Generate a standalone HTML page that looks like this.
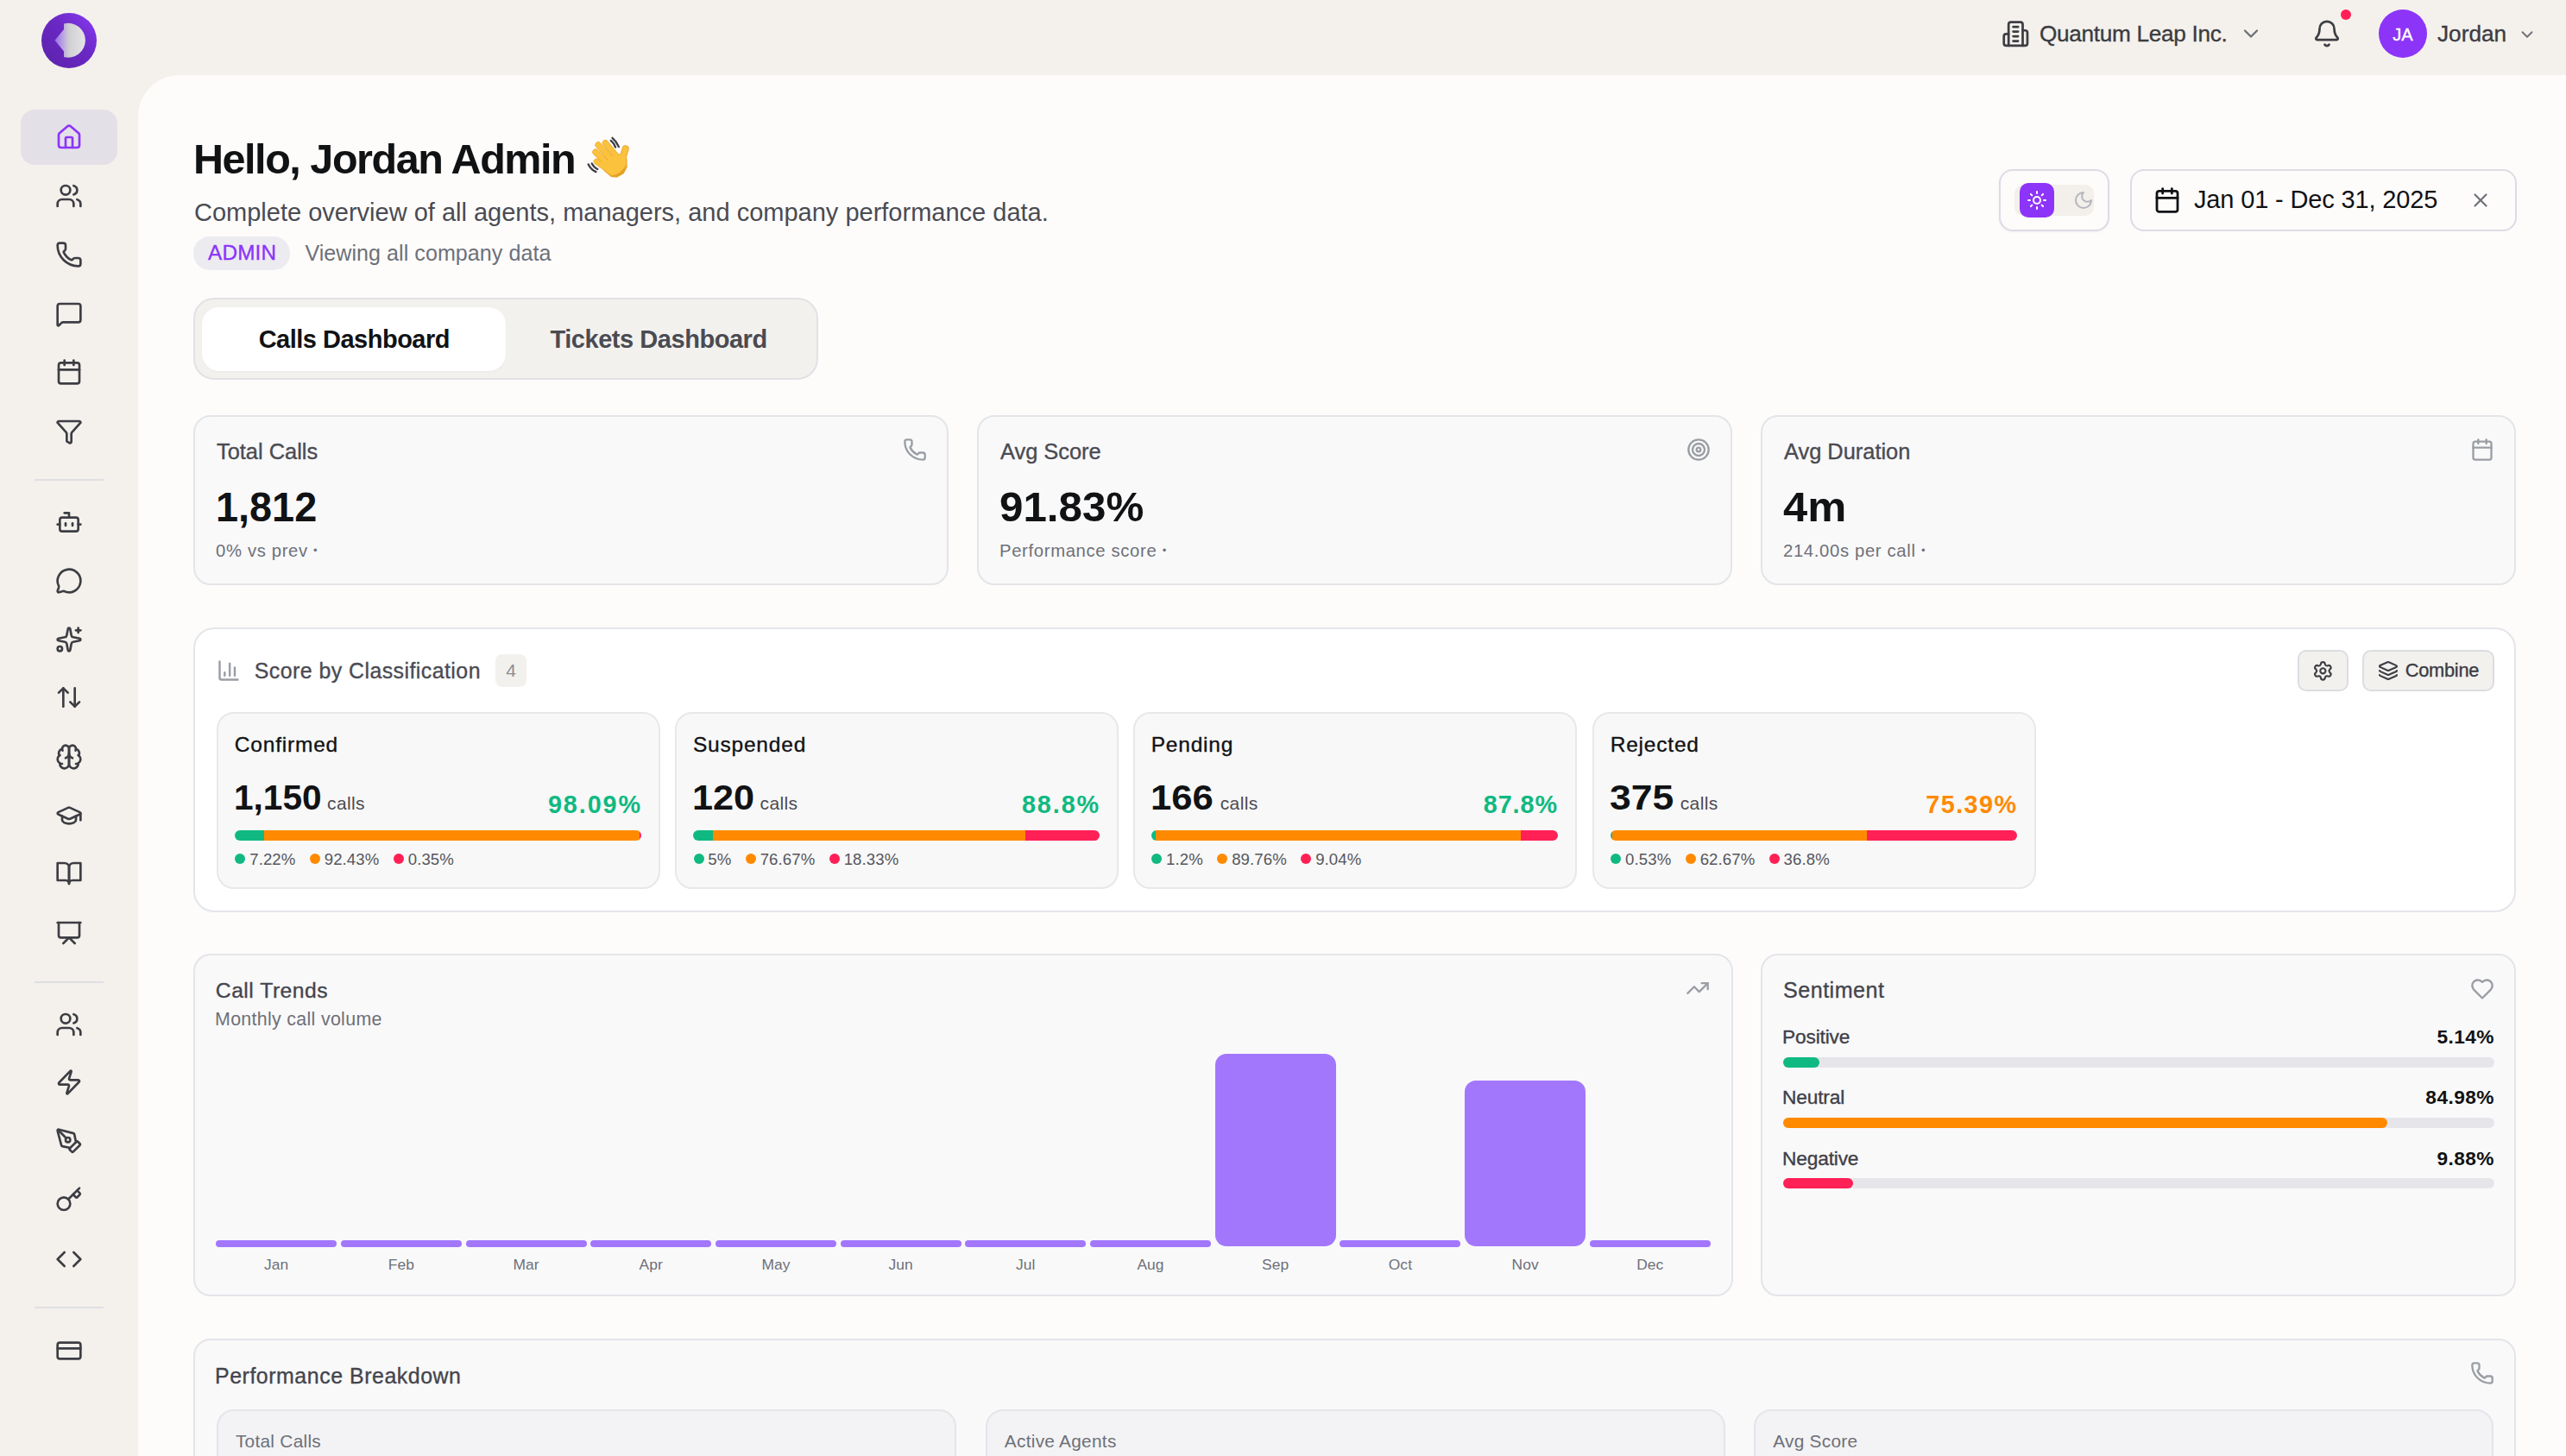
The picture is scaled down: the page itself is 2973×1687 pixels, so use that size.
<!DOCTYPE html><html><head><meta charset="utf-8"><style>
html,body{margin:0;padding:0;}
body{width:2973px;height:1687px;overflow:hidden;position:relative;background:#f4f1ec;font-family:"Liberation Sans", sans-serif;}
.t{position:absolute;white-space:nowrap;}
</style></head><body>
<div style="position:absolute;left:160.0px;top:87.0px;width:2813.0px;height:1660.0px;background:#fdfcfb;border-top-left-radius:48px;"></div>
<svg style="position:absolute;left:48px;top:15px" width="64" height="64" viewBox="0 0 64 64">
<defs><linearGradient id="lg1" x1="0" y1="1" x2="1" y2="0"><stop offset="0" stop-color="#5b22a8"/><stop offset="0.55" stop-color="#6a28c4"/><stop offset="1" stop-color="#8a3cf5"/></linearGradient>
<linearGradient id="lg2" x1="0" y1="0" x2="1" y2="0"><stop offset="0" stop-color="#9a6af0"/><stop offset="0.4" stop-color="#c9c3d6"/><stop offset="0.5" stop-color="#d2d2d4"/><stop offset="1" stop-color="#e4e4e6"/></linearGradient></defs>
<circle cx="32" cy="32" r="32" fill="url(#lg1)"/>
<path d="M26 12.5 A19.9 19.9 0 1 1 26 51 L26 44.5 L15.5 31.75 L26 19 Z" fill="url(#lg2)"/>
</svg>
<div style="position:absolute;left:24.0px;top:127.0px;width:112.0px;height:64.0px;background:#e4e0e8;border-radius:16px;"></div>
<svg style="position:absolute;left:64.0px;top:143.0px;" width="32" height="32" viewBox="0 0 24 24" fill="none" stroke="#8d34f9" stroke-width="2" stroke-linecap="round" stroke-linejoin="round"><path d="M15 21v-8a1 1 0 0 0-1-1h-4a1 1 0 0 0-1 1v8"/><path d="M3 10a2 2 0 0 1 .709-1.528l7-5.999a2 2 0 0 1 2.582 0l7 5.999A2 2 0 0 1 21 10v9a2 2 0 0 1-2 2H5a2 2 0 0 1-2-2z"/></svg>
<svg style="position:absolute;left:64.0px;top:211.0px;" width="32" height="32" viewBox="0 0 24 24" fill="none" stroke="#3d3e44" stroke-width="2" stroke-linecap="round" stroke-linejoin="round"><path d="M16 21v-2a4 4 0 0 0-4-4H6a4 4 0 0 0-4 4v2"/><circle cx="9" cy="7" r="4"/><path d="M22 21v-2a4 4 0 0 0-3-3.87"/><path d="M16 3.13a4 4 0 0 1 0 7.75"/></svg>
<svg style="position:absolute;left:64.0px;top:279.0px;" width="32" height="32" viewBox="0 0 24 24" fill="none" stroke="#3d3e44" stroke-width="2" stroke-linecap="round" stroke-linejoin="round"><path d="M13.832 16.568a1 1 0 0 0 1.213-.303l.355-.465A2 2 0 0 1 17 15h3a2 2 0 0 1 2 2v3a2 2 0 0 1-2 2A18 18 0 0 1 2 4a2 2 0 0 1 2-2h3a2 2 0 0 1 2 2v3a2 2 0 0 1-.8 1.6l-.468.351a1 1 0 0 0-.292 1.233 14 14 0 0 0 6.392 6.384"/></svg>
<svg style="position:absolute;left:64.0px;top:347.5px;" width="32" height="32" viewBox="0 0 24 24" fill="none" stroke="#3d3e44" stroke-width="2" stroke-linecap="round" stroke-linejoin="round"><path d="M22 17a2 2 0 0 1-2 2H6.828a2 2 0 0 0-1.414.586l-2.202 2.202A.71.71 0 0 1 2 21.286V5a2 2 0 0 1 2-2h16a2 2 0 0 1 2 2z"/></svg>
<svg style="position:absolute;left:64.0px;top:415.0px;" width="32" height="32" viewBox="0 0 24 24" fill="none" stroke="#3d3e44" stroke-width="2" stroke-linecap="round" stroke-linejoin="round"><path d="M8 2v4"/><path d="M16 2v4"/><rect width="18" height="18" x="3" y="4" rx="2"/><path d="M3 10h18"/></svg>
<svg style="position:absolute;left:64.0px;top:484.0px;" width="32" height="32" viewBox="0 0 24 24" fill="none" stroke="#3d3e44" stroke-width="2" stroke-linecap="round" stroke-linejoin="round"><path d="M10 20a1 1 0 0 0 .553.895l2 1A1 1 0 0 0 14 21v-7a2 2 0 0 1 .517-1.341L21.74 4.67A1 1 0 0 0 21 3H3a1 1 0 0 0-.742 1.67l7.225 7.989A2 2 0 0 1 10 14z"/></svg>
<svg style="position:absolute;left:64.0px;top:589.0px;" width="32" height="32" viewBox="0 0 24 24" fill="none" stroke="#3d3e44" stroke-width="2" stroke-linecap="round" stroke-linejoin="round"><path d="M12 8V4H8"/><rect width="16" height="12" x="4" y="8" rx="2"/><path d="M2 14h2"/><path d="M20 14h2"/><path d="M15 13v2"/><path d="M9 13v2"/></svg>
<svg style="position:absolute;left:64.0px;top:657.0px;" width="32" height="32" viewBox="0 0 24 24" fill="none" stroke="#3d3e44" stroke-width="2" stroke-linecap="round" stroke-linejoin="round"><path d="M2.992 16.342a2 2 0 0 1 .094 1.167l-1.065 3.29a1 1 0 0 0 1.236 1.168l3.413-.998a2 2 0 0 1 1.099.092 10 10 0 1 0-4.777-4.719"/></svg>
<svg style="position:absolute;left:64.0px;top:725.0px;" width="32" height="32" viewBox="0 0 24 24" fill="none" stroke="#3d3e44" stroke-width="2" stroke-linecap="round" stroke-linejoin="round"><path d="M11.017 2.814a1 1 0 0 1 1.966 0l1.051 5.558a2 2 0 0 0 1.594 1.594l5.558 1.051a1 1 0 0 1 0 1.966l-5.558 1.051a2 2 0 0 0-1.594 1.594l-1.051 5.558a1 1 0 0 1-1.966 0l-1.051-5.558a2 2 0 0 0-1.594-1.594l-5.558-1.051a1 1 0 0 1 0-1.966l5.558-1.051a2 2 0 0 0 1.594-1.594z"/><path d="M20 2v4"/><path d="M22 4h-4"/><circle cx="4" cy="20" r="2"/></svg>
<svg style="position:absolute;left:64.0px;top:792.0px;" width="32" height="32" viewBox="0 0 24 24" fill="none" stroke="#3d3e44" stroke-width="2" stroke-linecap="round" stroke-linejoin="round"><path d="m21 16-4 4-4-4"/><path d="M17 20V4"/><path d="m3 8 4-4 4 4"/><path d="M7 4v16"/></svg>
<svg style="position:absolute;left:64.0px;top:861.0px;" width="32" height="32" viewBox="0 0 24 24" fill="none" stroke="#3d3e44" stroke-width="2" stroke-linecap="round" stroke-linejoin="round"><path d="M12 5a3 3 0 1 0-5.997.125 4 4 0 0 0-2.526 5.77 4 4 0 0 0 .556 6.588A4 4 0 1 0 12 18Z"/><path d="M12 5a3 3 0 1 1 5.997.125 4 4 0 0 1 2.526 5.77 4 4 0 0 1-.556 6.588A4 4 0 1 1 12 18Z"/><path d="M15 13a4.5 4.5 0 0 1-3-4 4.5 4.5 0 0 1-3 4"/><path d="M17.599 6.5a3 3 0 0 0 .399-1.375"/><path d="M6.003 5.125A3 3 0 0 0 6.401 6.5"/><path d="M3.477 10.896a4 4 0 0 1 .585-.396"/><path d="M19.938 10.5a4 4 0 0 1 .585.396"/><path d="M6 18a4 4 0 0 1-1.967-.516"/><path d="M19.967 17.484A4 4 0 0 1 18 18"/></svg>
<svg style="position:absolute;left:64.0px;top:929.0px;" width="32" height="32" viewBox="0 0 24 24" fill="none" stroke="#3d3e44" stroke-width="2" stroke-linecap="round" stroke-linejoin="round"><path d="M21.42 10.922a1 1 0 0 0-.019-1.838L12.83 5.18a2 2 0 0 0-1.66 0L2.6 9.08a1 1 0 0 0 0 1.832l8.57 3.908a2 2 0 0 0 1.66 0z"/><path d="M22 10v6"/><path d="M6 12.5V16a6 3 0 0 0 12 0v-3.5"/></svg>
<svg style="position:absolute;left:64.0px;top:996.0px;" width="32" height="32" viewBox="0 0 24 24" fill="none" stroke="#3d3e44" stroke-width="2" stroke-linecap="round" stroke-linejoin="round"><path d="M2 3h6a4 4 0 0 1 4 4v14a3 3 0 0 0-3-3H2z"/><path d="M22 3h-6a4 4 0 0 0-4 4v14a3 3 0 0 1 3-3h7z"/></svg>
<svg style="position:absolute;left:64.0px;top:1065.0px;" width="32" height="32" viewBox="0 0 24 24" fill="none" stroke="#3d3e44" stroke-width="2" stroke-linecap="round" stroke-linejoin="round"><path d="M2 3h20"/><path d="M21 3v11a2 2 0 0 1-2 2H5a2 2 0 0 1-2-2V3"/><path d="m7 21 5-5 5 5"/></svg>
<svg style="position:absolute;left:64.0px;top:1171.0px;" width="32" height="32" viewBox="0 0 24 24" fill="none" stroke="#3d3e44" stroke-width="2" stroke-linecap="round" stroke-linejoin="round"><path d="M16 21v-2a4 4 0 0 0-4-4H6a4 4 0 0 0-4 4v2"/><circle cx="9" cy="7" r="4"/><path d="M22 21v-2a4 4 0 0 0-3-3.87"/><path d="M16 3.13a4 4 0 0 1 0 7.75"/></svg>
<svg style="position:absolute;left:64.0px;top:1238.0px;" width="32" height="32" viewBox="0 0 24 24" fill="none" stroke="#3d3e44" stroke-width="2" stroke-linecap="round" stroke-linejoin="round"><path d="M4 14a1 1 0 0 1-.78-1.63l9.9-10.2a.5.5 0 0 1 .86.46l-1.92 6.02A1 1 0 0 0 13 10h7a1 1 0 0 1 .78 1.63l-9.9 10.2a.5.5 0 0 1-.86-.46l1.92-6.02A1 1 0 0 0 11 14z"/></svg>
<svg style="position:absolute;left:64.0px;top:1306.0px;" width="32" height="32" viewBox="0 0 24 24" fill="none" stroke="#3d3e44" stroke-width="2" stroke-linecap="round" stroke-linejoin="round"><path d="M15.707 21.293a1 1 0 0 1-1.414 0l-1.586-1.586a1 1 0 0 1 0-1.414l5.586-5.586a1 1 0 0 1 1.414 0l1.586 1.586a1 1 0 0 1 0 1.414z"/><path d="m18 13-1.375-6.874a1 1 0 0 0-.746-.776L3.235 2.028a1 1 0 0 0-1.207 1.207L5.35 15.879a1 1 0 0 0 .776.746L13 18"/><path d="m2.3 2.3 7.286 7.286"/><circle cx="11" cy="11" r="2"/></svg>
<svg style="position:absolute;left:64.0px;top:1374.0px;" width="32" height="32" viewBox="0 0 24 24" fill="none" stroke="#3d3e44" stroke-width="2" stroke-linecap="round" stroke-linejoin="round"><path d="m15.5 7.5 2.3 2.3a1 1 0 0 0 1.4 0l2.1-2.1a1 1 0 0 0 0-1.4L19 4"/><path d="m21 2-9.6 9.6"/><circle cx="7.5" cy="15.5" r="5.5"/></svg>
<svg style="position:absolute;left:64.0px;top:1443.0px;" width="32" height="32" viewBox="0 0 24 24" fill="none" stroke="#3d3e44" stroke-width="2" stroke-linecap="round" stroke-linejoin="round"><polyline points="16 18 22 12 16 6"/><polyline points="8 6 2 12 8 18"/></svg>
<svg style="position:absolute;left:64.0px;top:1549.0px;" width="32" height="32" viewBox="0 0 24 24" fill="none" stroke="#3d3e44" stroke-width="2" stroke-linecap="round" stroke-linejoin="round"><rect width="20" height="14" x="2" y="5" rx="2"/><line x1="2" x2="22" y1="10" y2="10"/></svg>
<div style="position:absolute;left:40.0px;top:555.0px;width:80.0px;height:2.0px;background:#dedfe3;"></div>
<div style="position:absolute;left:40.0px;top:1137.0px;width:80.0px;height:2.0px;background:#dedfe3;"></div>
<div style="position:absolute;left:40.0px;top:1514.0px;width:80.0px;height:2.0px;background:#dedfe3;"></div>
<svg style="position:absolute;left:2318.8px;top:22.6px;" width="32.7" height="32.7" viewBox="0 0 24 24" fill="none" stroke="#3d3e44" stroke-width="2" stroke-linecap="round" stroke-linejoin="round"><path d="M6 22V4a2 2 0 0 1 2-2h8a2 2 0 0 1 2 2v18Z"/><path d="M6 12H4a2 2 0 0 0-2 2v6a2 2 0 0 0 2 2h2"/><path d="M18 9h2a2 2 0 0 1 2 2v9a2 2 0 0 1-2 2h-2"/><path d="M10 6h4"/><path d="M10 10h4"/><path d="M10 14h4"/><path d="M10 18h4"/></svg>
<div class="t" style="left:2363.0px;top:26.3px;font-size:26.2px;line-height:26.2px;font-weight:400;color:#3b3c42;letter-spacing:-0.31px;-webkit-text-stroke:0.35px currentColor">Quantum Leap Inc.</div>
<svg style="position:absolute;left:2594.0px;top:25.0px;" width="28" height="28" viewBox="0 0 24 24" fill="none" stroke="#6e7078" stroke-width="2" stroke-linecap="round" stroke-linejoin="round"><path d="m6 9 6 6 6-6"/></svg>
<svg style="position:absolute;left:2679.0px;top:22.0px;" width="34" height="34" viewBox="0 0 24 24" fill="none" stroke="#3d3e44" stroke-width="1.9" stroke-linecap="round" stroke-linejoin="round"><path d="M10.268 21a2 2 0 0 0 3.464 0"/><path d="M3.262 15.326A1 1 0 0 0 4 17h16a1 1 0 0 0 .74-1.673C19.41 13.956 18 12.499 18 8A6 6 0 0 0 6 8c0 4.499-1.411 5.956-2.738 7.326"/></svg>
<div style="position:absolute;left:2712.0px;top:11.0px;width:12.0px;height:12.0px;background:#ff2056;border-radius:50%;"></div>
<div style="position:absolute;left:2756.0px;top:11.0px;width:56.0px;height:56.0px;background:#8d34f9;border-radius:50%;"></div>
<div class="t" style="left:2284.0px;width:1000px;text-align:center;top:29.6px;font-size:20px;line-height:20px;font-weight:400;color:#ffffff;letter-spacing:0px;-webkit-text-stroke:0.35px currentColor">JA</div>
<div class="t" style="left:2824.0px;top:26.3px;font-size:26.2px;line-height:26.2px;font-weight:400;color:#3b3c42;letter-spacing:0px;-webkit-text-stroke:0.35px currentColor">Jordan</div>
<svg style="position:absolute;left:2917.0px;top:29.0px;" width="22" height="22" viewBox="0 0 24 24" fill="none" stroke="#6e7078" stroke-width="2" stroke-linecap="round" stroke-linejoin="round"><path d="m6 9 6 6 6-6"/></svg>
<div class="t" style="left:224.0px;top:160.1px;font-size:48.5px;line-height:48.5px;font-weight:700;color:#111214;letter-spacing:-1.45px;">Hello, Jordan Admin</div>
<svg style="position:absolute;left:670px;top:150px" width="70" height="65" viewBox="0 0 1568 1456">
<g fill="none" stroke="#3d3e44" stroke-width="52" stroke-linecap="round"><path d="M885 220 Q1000 320 1050 450"/><path d="M845 290 Q930 360 965 460"/><path d="M262 905 Q330 1040 460 1100"/><path d="M352 885 Q410 990 500 1032"/></g>
<g stroke="#e9a52c" stroke-linecap="round" fill="none">
<line x1="700" y1="350" x2="1010" y2="720" stroke-width="160"/>
<line x1="515" y1="400" x2="860" y2="780" stroke-width="160"/>
<line x1="445" y1="585" x2="790" y2="920" stroke-width="160"/>
<line x1="475" y1="830" x2="800" y2="1060" stroke-width="155"/>
<line x1="1225" y1="500" x2="1120" y2="860" stroke-width="180"/>
</g>
<path d="M760 700 L1060 640 L1180 620 L1265 760 L1270 980 L1180 1150 L1000 1250 L850 1230 L650 1060 Z" fill="#e9a52c"/>
<g stroke="#fbc23e" stroke-linecap="round" fill="none">
<line x1="700" y1="350" x2="1010" y2="720" stroke-width="136"/>
<line x1="515" y1="400" x2="860" y2="780" stroke-width="136"/>
<line x1="445" y1="585" x2="790" y2="920" stroke-width="136"/>
<line x1="475" y1="830" x2="800" y2="1060" stroke-width="130"/>
<line x1="1225" y1="500" x2="1120" y2="860" stroke-width="136"/>
</g>
<path d="M780 720 L1060 660 L1170 640 L1240 770 L1240 960 L1160 1110 L1000 1200 L860 1190 L680 1050 Z" fill="#fbc23e"/>
<path d="M1240 900 Q1230 1080 1100 1170 Q980 1240 850 1200 Q1000 1190 1120 1080 Q1220 990 1240 900 Z" fill="#e3a020"/>
</svg>
<div class="t" style="left:225.0px;top:231.5px;font-size:29px;line-height:29px;font-weight:400;color:#4a4b52;letter-spacing:0px;">Complete overview of all agents, managers, and company performance data.</div>
<div style="position:absolute;left:224.0px;top:274.0px;width:112.0px;height:39.0px;background:#ecebf0;border-radius:19px;"></div>
<div class="t" style="left:241.0px;top:281.4px;font-size:24.3px;line-height:24.3px;font-weight:400;color:#8d34f9;letter-spacing:0.2px;-webkit-text-stroke:0.35px currentColor">ADMIN</div>
<div class="t" style="left:353.4px;top:280.8px;font-size:25.1px;line-height:25.1px;font-weight:400;color:#6e7078;letter-spacing:0.04px;">Viewing all company data</div>
<div style="position:absolute;left:224.0px;top:345.0px;width:724.0px;height:95.0px;background:#f3f1ee;border:2px solid #e2e1e6;border-radius:24px;box-sizing:border-box;"></div>
<div style="position:absolute;left:234.0px;top:356.0px;width:352.0px;height:74.0px;background:#ffffff;border-radius:20px;box-shadow:0 1px 2px rgba(0,0,0,0.04);"></div>
<div class="t" style="left:-89.7px;width:1000px;text-align:center;top:378.7px;font-size:29px;line-height:29px;font-weight:700;color:#111214;letter-spacing:-0.5px;">Calls Dashboard</div>
<div class="t" style="left:263.1px;width:1000px;text-align:center;top:378.7px;font-size:29px;line-height:29px;font-weight:700;color:#4a4b52;letter-spacing:-0.46px;">Tickets Dashboard</div>
<div style="position:absolute;left:2316.0px;top:196.0px;width:128.0px;height:72.0px;background:#fdfcfb;border:2px solid #dfdbe6;border-radius:16px;box-sizing:border-box;box-shadow:0 1px 3px rgba(0,0,0,0.05);"></div>
<div style="position:absolute;left:2334.0px;top:214.0px;width:92.0px;height:36.0px;background:#f3f0eb;border-radius:10px;"></div>
<div style="position:absolute;left:2340.0px;top:212.0px;width:40.0px;height:40.0px;background:#8d34f9;border-radius:10px;"></div>
<svg style="position:absolute;left:2348.0px;top:220.0px;" width="24" height="24" viewBox="0 0 24 24" fill="none" stroke="#ffffff" stroke-width="2" stroke-linecap="round" stroke-linejoin="round"><circle cx="12" cy="12" r="4"/><path d="M12 2v2"/><path d="M12 20v2"/><path d="m4.93 4.93 1.41 1.41"/><path d="m17.66 17.66 1.41 1.41"/><path d="M2 12h2"/><path d="M20 12h2"/><path d="m6.34 17.66-1.41 1.41"/><path d="m19.07 4.93-1.41 1.41"/></svg>
<svg style="position:absolute;left:2402.0px;top:220.0px;" width="24" height="24" viewBox="0 0 24 24" fill="none" stroke="#b4b6bd" stroke-width="2" stroke-linecap="round" stroke-linejoin="round"><path d="M12 3a6 6 0 0 0 9 9 9 9 0 1 1-9-9Z"/></svg>
<div style="position:absolute;left:2468.0px;top:196.0px;width:448.0px;height:72.0px;background:#fdfcfb;border:2px solid #dfdbe6;border-radius:16px;box-sizing:border-box;"></div>
<svg style="position:absolute;left:2494.5px;top:215.5px;" width="32" height="32" viewBox="0 0 24 24" fill="none" stroke="#111214" stroke-width="2.1" stroke-linecap="round" stroke-linejoin="round"><path d="M8 2v4"/><path d="M16 2v4"/><rect width="18" height="18" x="3" y="4" rx="2"/><path d="M3 10h18"/></svg>
<div class="t" style="left:2542.0px;top:217.3px;font-size:29px;line-height:29px;font-weight:400;color:#111214;letter-spacing:-0.15px;">Jan 01 - Dec 31, 2025</div>
<svg style="position:absolute;left:2861.0px;top:219.0px;" width="26" height="26" viewBox="0 0 24 24" fill="none" stroke="#6e7078" stroke-width="2" stroke-linecap="round" stroke-linejoin="round"><path d="M18 6 6 18"/><path d="m6 6 12 12"/></svg>
<div style="position:absolute;left:224.0px;top:481.0px;width:875.0px;height:197.0px;background:#f9f9fa;border:2px solid #e4e5e9;border-radius:20px;box-sizing:border-box;"></div>
<div class="t" style="left:251.0px;top:510.8px;font-size:25.4px;line-height:25.4px;font-weight:400;color:#4a4b52;letter-spacing:0px;-webkit-text-stroke:0.35px currentColor">Total Calls</div>
<div class="t" style="left:250.0px;top:563.6px;font-size:47.5px;line-height:47.5px;font-weight:700;color:#111214;letter-spacing:0px;"><span style="display:inline-block;transform:scaleX(0.986);transform-origin:0 0">1,812</span></div>
<div class="t" style="left:250.0px;top:627.8px;font-size:20.3px;line-height:20.3px;font-weight:400;color:#6e7078;letter-spacing:0.65px;">0% vs prev <span style="font-size:13px;position:relative;top:-3px">•</span></div>
<svg style="position:absolute;left:1046.0px;top:507.0px;" width="28" height="28" viewBox="0 0 24 24" fill="none" stroke="#9a9ea4" stroke-width="2" stroke-linecap="round" stroke-linejoin="round"><path d="M13.832 16.568a1 1 0 0 0 1.213-.303l.355-.465A2 2 0 0 1 17 15h3a2 2 0 0 1 2 2v3a2 2 0 0 1-2 2A18 18 0 0 1 2 4a2 2 0 0 1 2-2h3a2 2 0 0 1 2 2v3a2 2 0 0 1-.8 1.6l-.468.351a1 1 0 0 0-.292 1.233 14 14 0 0 0 6.392 6.384"/></svg>
<div style="position:absolute;left:1132.0px;top:481.0px;width:875.0px;height:197.0px;background:#f9f9fa;border:2px solid #e4e5e9;border-radius:20px;box-sizing:border-box;"></div>
<div class="t" style="left:1159.0px;top:510.8px;font-size:25.4px;line-height:25.4px;font-weight:400;color:#4a4b52;letter-spacing:0px;-webkit-text-stroke:0.35px currentColor">Avg Score</div>
<div class="t" style="left:1158.0px;top:563.6px;font-size:47.5px;line-height:47.5px;font-weight:700;color:#111214;letter-spacing:0px;"><span style="display:inline-block;transform:scaleX(1.038);transform-origin:0 0">91.83%</span></div>
<div class="t" style="left:1158.0px;top:627.8px;font-size:20.3px;line-height:20.3px;font-weight:400;color:#6e7078;letter-spacing:0.65px;">Performance score <span style="font-size:13px;position:relative;top:-3px">•</span></div>
<svg style="position:absolute;left:1954.0px;top:507.0px;" width="28" height="28" viewBox="0 0 24 24" fill="none" stroke="#9a9ea4" stroke-width="2" stroke-linecap="round" stroke-linejoin="round"><circle cx="12" cy="12" r="10"/><circle cx="12" cy="12" r="6"/><circle cx="12" cy="12" r="2"/></svg>
<div style="position:absolute;left:2040.0px;top:481.0px;width:875.0px;height:197.0px;background:#f9f9fa;border:2px solid #e4e5e9;border-radius:20px;box-sizing:border-box;"></div>
<div class="t" style="left:2067.0px;top:510.8px;font-size:25.4px;line-height:25.4px;font-weight:400;color:#4a4b52;letter-spacing:0px;-webkit-text-stroke:0.35px currentColor">Avg Duration</div>
<div class="t" style="left:2066.0px;top:563.6px;font-size:47.5px;line-height:47.5px;font-weight:700;color:#111214;letter-spacing:0px;"><span style="display:inline-block;transform:scaleX(1.066);transform-origin:0 0">4m</span></div>
<div class="t" style="left:2066.0px;top:627.8px;font-size:20.3px;line-height:20.3px;font-weight:400;color:#6e7078;letter-spacing:0.65px;">214.00s per call <span style="font-size:13px;position:relative;top:-3px">•</span></div>
<svg style="position:absolute;left:2862.0px;top:507.0px;" width="28" height="28" viewBox="0 0 24 24" fill="none" stroke="#9a9ea4" stroke-width="2" stroke-linecap="round" stroke-linejoin="round"><path d="M8 2v4"/><path d="M16 2v4"/><rect width="18" height="18" x="3" y="4" rx="2"/><path d="M3 10h18"/></svg>
<div style="position:absolute;left:224.0px;top:727.0px;width:2691.0px;height:330.0px;background:#ffffff;border:2px solid #e4e5e9;border-radius:24px;box-sizing:border-box;"></div>
<svg style="position:absolute;left:250.5px;top:763.0px;" width="28" height="28" viewBox="0 0 24 24" fill="none" stroke="#9a9ea4" stroke-width="2.1" stroke-linecap="round" stroke-linejoin="round"><path d="M3 3v16a2 2 0 0 0 2 2h16"/><path d="M18 17V9"/><path d="M13 17V5"/><path d="M8 17v-3"/></svg>
<div class="t" style="left:294.8px;top:764.9px;font-size:24.9px;line-height:24.9px;font-weight:400;color:#4a4b52;letter-spacing:0.45px;-webkit-text-stroke:0.35px currentColor">Score by Classification</div>
<div style="position:absolute;left:574.0px;top:758.0px;width:36.0px;height:37.6px;background:#f3f1ee;border-radius:8px;"></div>
<div class="t" style="left:92.0px;width:1000px;text-align:center;top:766.2px;font-size:21px;line-height:21px;font-weight:400;color:#8a8c94;letter-spacing:0px;">4</div>
<div style="position:absolute;left:2662.0px;top:753.0px;width:59.0px;height:47.5px;background:#f3f1ee;border:2px solid #dcdce2;border-radius:10px;box-sizing:border-box;"></div>
<svg style="position:absolute;left:2678.6px;top:764.6px;" width="24.7" height="24.7" viewBox="0 0 24 24" fill="none" stroke="#3d3e44" stroke-width="2.1" stroke-linecap="round" stroke-linejoin="round"><path d="M9.671 4.136a2.34 2.34 0 0 1 4.659 0 2.34 2.34 0 0 0 3.319 1.915 2.34 2.34 0 0 1 2.33 4.033 2.34 2.34 0 0 0 0 3.831 2.34 2.34 0 0 1-2.33 4.033 2.34 2.34 0 0 0-3.319 1.915 2.34 2.34 0 0 1-4.659 0 2.34 2.34 0 0 0-3.32-1.915 2.34 2.34 0 0 1-2.33-4.033 2.34 2.34 0 0 0 0-3.831A2.34 2.34 0 0 1 6.35 6.051a2.34 2.34 0 0 0 3.319-1.915"/><circle cx="12" cy="12" r="3"/></svg>
<div style="position:absolute;left:2737.0px;top:753.0px;width:153.0px;height:47.5px;background:#f3f1ee;border:2px solid #dcdce2;border-radius:10px;box-sizing:border-box;"></div>
<svg style="position:absolute;left:2754.5px;top:764.5px;" width="24" height="24" viewBox="0 0 24 24" fill="none" stroke="#3d3e44" stroke-width="2.1" stroke-linecap="round" stroke-linejoin="round"><path d="M12.83 2.18a2 2 0 0 0-1.66 0L2.6 6.08a1 1 0 0 0 0 1.83l8.58 3.91a2 2 0 0 0 1.66 0l8.58-3.9a1 1 0 0 0 0-1.83z"/><path d="M2 12a1 1 0 0 0 .58.91l8.6 3.91a2 2 0 0 0 1.65 0l8.58-3.9A1 1 0 0 0 22 12"/><path d="M2 17a1 1 0 0 0 .58.91l8.6 3.91a2 2 0 0 0 1.65 0l8.58-3.9A1 1 0 0 0 22 17"/></svg>
<div class="t" style="left:2786.7px;top:765.8px;font-size:21.8px;line-height:21.8px;font-weight:400;color:#3b3c42;letter-spacing:-0.25px;-webkit-text-stroke:0.35px currentColor">Combine</div>
<div style="position:absolute;left:250.6px;top:825.0px;width:514.0px;height:205.0px;background:#f8f8f8;border:2px solid #e8e8ea;border-radius:20px;box-sizing:border-box;"></div>
<div class="t" style="left:271.8px;top:850.9px;font-size:24.5px;line-height:24.5px;font-weight:400;color:#111214;letter-spacing:0.8px;-webkit-text-stroke:0.35px currentColor">Confirmed</div>
<div class="t" style="left:271.3px;top:903.5px;font-size:41px;line-height:41px;font-weight:700;color:#111214;letter-spacing:0px;"><span style="display:inline-block;transform:scaleX(0.99);transform-origin:0 0">1,150</span></div>
<div class="t" style="left:379.0px;top:920.4px;font-size:21px;line-height:21px;font-weight:400;color:#4a4b52;letter-spacing:0.4px;">calls</div>
<div class="t" style="right:2229.0px;top:918.1px;font-size:28.8px;line-height:28.8px;font-weight:700;color:#10b981;letter-spacing:1.9px;">98.09%</div>
<div style="position:absolute;left:271.8px;top:962px;width:471.2px;height:12px;border-radius:6px;overflow:hidden;display:flex"><div style="width:7.22%;background:#10b981"></div><div style="width:92.43%;background:#ff8a00"></div><div style="flex:1;background:#ff2056"></div></div>
<div class="t" style="left:272.4px;top:987.1px;font-size:18.6px;line-height:18.6px;color:#55565d;display:flex;align-items:center"><span style="display:inline-block;width:12px;height:12px;border-radius:6px;background:#10b981;margin-right:4.8px;position:relative;top:-1px"></span><span style="margin-right:16.5px;letter-spacing:0.1px">7.22%</span><span style="display:inline-block;width:12px;height:12px;border-radius:6px;background:#ff8a00;margin-right:4.8px;position:relative;top:-1px"></span><span style="margin-right:16.5px;letter-spacing:0.1px">92.43%</span><span style="display:inline-block;width:12px;height:12px;border-radius:6px;background:#ff2056;margin-right:4.8px;position:relative;top:-1px"></span><span style="margin-right:16.5px;letter-spacing:0.1px">0.35%</span></div>
<div style="position:absolute;left:781.7px;top:825.0px;width:514.0px;height:205.0px;background:#f8f8f8;border:2px solid #e8e8ea;border-radius:20px;box-sizing:border-box;"></div>
<div class="t" style="left:802.9px;top:850.9px;font-size:24.5px;line-height:24.5px;font-weight:400;color:#111214;letter-spacing:0.8px;-webkit-text-stroke:0.35px currentColor">Suspended</div>
<div class="t" style="left:802.4px;top:903.5px;font-size:41px;line-height:41px;font-weight:700;color:#111214;letter-spacing:0px;"><span style="display:inline-block;transform:scaleX(1.055);transform-origin:0 0">120</span></div>
<div class="t" style="left:880.5px;top:920.4px;font-size:21px;line-height:21px;font-weight:400;color:#4a4b52;letter-spacing:0.4px;">calls</div>
<div class="t" style="right:1697.9px;top:918.1px;font-size:28.8px;line-height:28.8px;font-weight:700;color:#10b981;letter-spacing:1.9px;">88.8%</div>
<div style="position:absolute;left:802.9px;top:962px;width:471.2px;height:12px;border-radius:6px;overflow:hidden;display:flex"><div style="width:5%;background:#10b981"></div><div style="width:76.67%;background:#ff8a00"></div><div style="flex:1;background:#ff2056"></div></div>
<div class="t" style="left:803.5px;top:987.1px;font-size:18.6px;line-height:18.6px;color:#55565d;display:flex;align-items:center"><span style="display:inline-block;width:12px;height:12px;border-radius:6px;background:#10b981;margin-right:4.8px;position:relative;top:-1px"></span><span style="margin-right:16.5px;letter-spacing:0.1px">5%</span><span style="display:inline-block;width:12px;height:12px;border-radius:6px;background:#ff8a00;margin-right:4.8px;position:relative;top:-1px"></span><span style="margin-right:16.5px;letter-spacing:0.1px">76.67%</span><span style="display:inline-block;width:12px;height:12px;border-radius:6px;background:#ff2056;margin-right:4.8px;position:relative;top:-1px"></span><span style="margin-right:16.5px;letter-spacing:0.1px">18.33%</span></div>
<div style="position:absolute;left:1312.5px;top:825.0px;width:514.0px;height:205.0px;background:#f8f8f8;border:2px solid #e8e8ea;border-radius:20px;box-sizing:border-box;"></div>
<div class="t" style="left:1333.7px;top:850.9px;font-size:24.5px;line-height:24.5px;font-weight:400;color:#111214;letter-spacing:0.8px;-webkit-text-stroke:0.35px currentColor">Pending</div>
<div class="t" style="left:1333.2px;top:903.5px;font-size:41px;line-height:41px;font-weight:700;color:#111214;letter-spacing:0px;"><span style="display:inline-block;transform:scaleX(1.063);transform-origin:0 0">166</span></div>
<div class="t" style="left:1413.7px;top:920.4px;font-size:21px;line-height:21px;font-weight:400;color:#4a4b52;letter-spacing:0.4px;">calls</div>
<div class="t" style="right:1168.1px;top:918.1px;font-size:28.8px;line-height:28.8px;font-weight:700;color:#10b981;letter-spacing:0.9px;">87.8%</div>
<div style="position:absolute;left:1333.7px;top:962px;width:471.2px;height:12px;border-radius:6px;overflow:hidden;display:flex"><div style="width:1.2%;background:#10b981"></div><div style="width:89.76%;background:#ff8a00"></div><div style="flex:1;background:#ff2056"></div></div>
<div class="t" style="left:1334.3px;top:987.1px;font-size:18.6px;line-height:18.6px;color:#55565d;display:flex;align-items:center"><span style="display:inline-block;width:12px;height:12px;border-radius:6px;background:#10b981;margin-right:4.8px;position:relative;top:-1px"></span><span style="margin-right:16.5px;letter-spacing:0.1px">1.2%</span><span style="display:inline-block;width:12px;height:12px;border-radius:6px;background:#ff8a00;margin-right:4.8px;position:relative;top:-1px"></span><span style="margin-right:16.5px;letter-spacing:0.1px">89.76%</span><span style="display:inline-block;width:12px;height:12px;border-radius:6px;background:#ff2056;margin-right:4.8px;position:relative;top:-1px"></span><span style="margin-right:16.5px;letter-spacing:0.1px">9.04%</span></div>
<div style="position:absolute;left:1844.5px;top:825.0px;width:514.0px;height:205.0px;background:#f8f8f8;border:2px solid #e8e8ea;border-radius:20px;box-sizing:border-box;"></div>
<div class="t" style="left:1865.7px;top:850.9px;font-size:24.5px;line-height:24.5px;font-weight:400;color:#111214;letter-spacing:0.8px;-webkit-text-stroke:0.35px currentColor">Rejected</div>
<div class="t" style="left:1865.2px;top:903.5px;font-size:41px;line-height:41px;font-weight:700;color:#111214;letter-spacing:0px;"><span style="display:inline-block;transform:scaleX(1.085);transform-origin:0 0">375</span></div>
<div class="t" style="left:1946.7px;top:920.4px;font-size:21px;line-height:21px;font-weight:400;color:#4a4b52;letter-spacing:0.4px;">calls</div>
<div class="t" style="right:635.6px;top:918.1px;font-size:28.8px;line-height:28.8px;font-weight:700;color:#ff8a00;letter-spacing:1.4px;">75.39%</div>
<div style="position:absolute;left:1865.7px;top:962px;width:471.2px;height:12px;border-radius:6px;overflow:hidden;display:flex"><div style="width:0.53%;background:#10b981"></div><div style="width:62.67%;background:#ff8a00"></div><div style="flex:1;background:#ff2056"></div></div>
<div class="t" style="left:1866.3px;top:987.1px;font-size:18.6px;line-height:18.6px;color:#55565d;display:flex;align-items:center"><span style="display:inline-block;width:12px;height:12px;border-radius:6px;background:#10b981;margin-right:4.8px;position:relative;top:-1px"></span><span style="margin-right:16.5px;letter-spacing:0.1px">0.53%</span><span style="display:inline-block;width:12px;height:12px;border-radius:6px;background:#ff8a00;margin-right:4.8px;position:relative;top:-1px"></span><span style="margin-right:16.5px;letter-spacing:0.1px">62.67%</span><span style="display:inline-block;width:12px;height:12px;border-radius:6px;background:#ff2056;margin-right:4.8px;position:relative;top:-1px"></span><span style="margin-right:16.5px;letter-spacing:0.1px">36.8%</span></div>
<div style="position:absolute;left:224.0px;top:1105.0px;width:1784.0px;height:397.0px;background:#f9f9fa;border:2px solid #e4e5e9;border-radius:20px;box-sizing:border-box;"></div>
<div class="t" style="left:249.8px;top:1135.5px;font-size:24.7px;line-height:24.7px;font-weight:400;color:#44454c;letter-spacing:0.5px;-webkit-text-stroke:0.35px currentColor">Call Trends</div>
<div class="t" style="left:249.0px;top:1171.4px;font-size:21.4px;line-height:21.4px;font-weight:400;color:#6e7078;letter-spacing:0.31px;">Monthly call volume</div>
<svg style="position:absolute;left:1953.0px;top:1130.5px;" width="28" height="28" viewBox="0 0 24 24" fill="none" stroke="#9a9ea4" stroke-width="2" stroke-linecap="round" stroke-linejoin="round"><polyline points="22 7 13.5 15.5 8.5 10.5 2 17"/><polyline points="16 7 22 7 22 13"/></svg>
<div style="position:absolute;left:250.2px;top:1437.0px;width:140.1px;height:7.5px;background:#a277fc;border-radius:4px;"></div>
<div class="t" style="left:-179.8px;width:1000px;text-align:center;top:1457.3px;font-size:17.4px;line-height:17.4px;font-weight:400;color:#6e7078;letter-spacing:0.1px;">Jan</div>
<div style="position:absolute;left:394.9px;top:1437.0px;width:140.1px;height:7.5px;background:#a277fc;border-radius:4px;"></div>
<div class="t" style="left:-35.1px;width:1000px;text-align:center;top:1457.3px;font-size:17.4px;line-height:17.4px;font-weight:400;color:#6e7078;letter-spacing:0.1px;">Feb</div>
<div style="position:absolute;left:539.6px;top:1437.0px;width:140.1px;height:7.5px;background:#a277fc;border-radius:4px;"></div>
<div class="t" style="left:109.6px;width:1000px;text-align:center;top:1457.3px;font-size:17.4px;line-height:17.4px;font-weight:400;color:#6e7078;letter-spacing:0.1px;">Mar</div>
<div style="position:absolute;left:684.2px;top:1437.0px;width:140.1px;height:7.5px;background:#a277fc;border-radius:4px;"></div>
<div class="t" style="left:254.3px;width:1000px;text-align:center;top:1457.3px;font-size:17.4px;line-height:17.4px;font-weight:400;color:#6e7078;letter-spacing:0.1px;">Apr</div>
<div style="position:absolute;left:828.9px;top:1437.0px;width:140.1px;height:7.5px;background:#a277fc;border-radius:4px;"></div>
<div class="t" style="left:399.0px;width:1000px;text-align:center;top:1457.3px;font-size:17.4px;line-height:17.4px;font-weight:400;color:#6e7078;letter-spacing:0.1px;">May</div>
<div style="position:absolute;left:973.6px;top:1437.0px;width:140.1px;height:7.5px;background:#a277fc;border-radius:4px;"></div>
<div class="t" style="left:543.7px;width:1000px;text-align:center;top:1457.3px;font-size:17.4px;line-height:17.4px;font-weight:400;color:#6e7078;letter-spacing:0.1px;">Jun</div>
<div style="position:absolute;left:1118.3px;top:1437.0px;width:140.1px;height:7.5px;background:#a277fc;border-radius:4px;"></div>
<div class="t" style="left:688.3px;width:1000px;text-align:center;top:1457.3px;font-size:17.4px;line-height:17.4px;font-weight:400;color:#6e7078;letter-spacing:0.1px;">Jul</div>
<div style="position:absolute;left:1263.0px;top:1437.0px;width:140.1px;height:7.5px;background:#a277fc;border-radius:4px;"></div>
<div class="t" style="left:833.0px;width:1000px;text-align:center;top:1457.3px;font-size:17.4px;line-height:17.4px;font-weight:400;color:#6e7078;letter-spacing:0.1px;">Aug</div>
<div style="position:absolute;left:1407.7px;top:1220.8px;width:140.1px;height:223.6px;background:#a277fc;border-radius:13px;"></div>
<div class="t" style="left:977.7px;width:1000px;text-align:center;top:1457.3px;font-size:17.4px;line-height:17.4px;font-weight:400;color:#6e7078;letter-spacing:0.1px;">Sep</div>
<div style="position:absolute;left:1552.3px;top:1437.0px;width:140.1px;height:7.5px;background:#a277fc;border-radius:4px;"></div>
<div class="t" style="left:1122.4px;width:1000px;text-align:center;top:1457.3px;font-size:17.4px;line-height:17.4px;font-weight:400;color:#6e7078;letter-spacing:0.1px;">Oct</div>
<div style="position:absolute;left:1697.0px;top:1251.8px;width:140.1px;height:192.6px;background:#a277fc;border-radius:13px;"></div>
<div class="t" style="left:1267.1px;width:1000px;text-align:center;top:1457.3px;font-size:17.4px;line-height:17.4px;font-weight:400;color:#6e7078;letter-spacing:0.1px;">Nov</div>
<div style="position:absolute;left:1841.7px;top:1437.0px;width:140.1px;height:7.5px;background:#a277fc;border-radius:4px;"></div>
<div class="t" style="left:1411.8px;width:1000px;text-align:center;top:1457.3px;font-size:17.4px;line-height:17.4px;font-weight:400;color:#6e7078;letter-spacing:0.1px;">Dec</div>
<div style="position:absolute;left:2040.0px;top:1105.0px;width:875.0px;height:397.0px;background:#f9f9fa;border:2px solid #e4e5e9;border-radius:20px;box-sizing:border-box;"></div>
<div class="t" style="left:2066.0px;top:1135.1px;font-size:25.1px;line-height:25.1px;font-weight:400;color:#44454c;letter-spacing:0.5px;-webkit-text-stroke:0.35px currentColor">Sentiment</div>
<svg style="position:absolute;left:2861.5px;top:1131.5px;" width="28" height="28" viewBox="0 0 24 24" fill="none" stroke="#9a9ea4" stroke-width="2" stroke-linecap="round" stroke-linejoin="round"><path d="M19 14c1.49-1.46 3-3.21 3-5.5A5.5 5.5 0 0 0 16.5 3c-1.76 0-3 .5-4.5 2-1.5-1.5-2.74-2-4.5-2A5.5 5.5 0 0 0 2 8.5c0 2.3 1.5 4.05 3 5.5l7 7Z"/></svg>
<div class="t" style="left:2065.0px;top:1190.4px;font-size:22.7px;line-height:22.7px;font-weight:400;color:#3f4046;letter-spacing:-0.15px;-webkit-text-stroke:0.35px currentColor">Positive</div>
<div class="t" style="right:83.0px;top:1190.4px;font-size:22.7px;line-height:22.7px;font-weight:700;color:#111214;letter-spacing:0.45px;">5.14%</div>
<div style="position:absolute;left:2066.0px;top:1224.8px;width:824.0px;height:12.0px;background:#e6e6ea;border-radius:6px;"></div>
<div style="position:absolute;left:2066.0px;top:1224.8px;width:42.0px;height:12.0px;background:#10b981;border-radius:6px;"></div>
<div class="t" style="left:2065.0px;top:1260.4px;font-size:22.7px;line-height:22.7px;font-weight:400;color:#3f4046;letter-spacing:-0.15px;-webkit-text-stroke:0.35px currentColor">Neutral</div>
<div class="t" style="right:83.0px;top:1260.4px;font-size:22.7px;line-height:22.7px;font-weight:700;color:#111214;letter-spacing:0.45px;">84.98%</div>
<div style="position:absolute;left:2066.0px;top:1294.8px;width:824.0px;height:12.0px;background:#e6e6ea;border-radius:6px;"></div>
<div style="position:absolute;left:2066.0px;top:1294.8px;width:700.0px;height:12.0px;background:#ff8a00;border-radius:6px;"></div>
<div class="t" style="left:2065.0px;top:1330.8px;font-size:22.7px;line-height:22.7px;font-weight:400;color:#3f4046;letter-spacing:-0.15px;-webkit-text-stroke:0.35px currentColor">Negative</div>
<div class="t" style="right:83.0px;top:1330.8px;font-size:22.7px;line-height:22.7px;font-weight:700;color:#111214;letter-spacing:0.45px;">9.88%</div>
<div style="position:absolute;left:2066.0px;top:1364.8px;width:824.0px;height:12.0px;background:#e6e6ea;border-radius:6px;"></div>
<div style="position:absolute;left:2066.0px;top:1364.8px;width:81.0px;height:12.0px;background:#ff2056;border-radius:6px;"></div>
<div style="position:absolute;left:224.0px;top:1551.0px;width:2691.0px;height:300.0px;background:#f9f9fa;border:2px solid #e4e5e9;border-radius:20px;box-sizing:border-box;"></div>
<div class="t" style="left:249.0px;top:1581.5px;font-size:24.9px;line-height:24.9px;font-weight:400;color:#44454c;letter-spacing:0.55px;-webkit-text-stroke:0.35px currentColor">Performance Breakdown</div>
<svg style="position:absolute;left:2861.5px;top:1577.0px;" width="28" height="28" viewBox="0 0 24 24" fill="none" stroke="#9a9ea4" stroke-width="2" stroke-linecap="round" stroke-linejoin="round"><path d="M13.832 16.568a1 1 0 0 0 1.213-.303l.355-.465A2 2 0 0 1 17 15h3a2 2 0 0 1 2 2v3a2 2 0 0 1-2 2A18 18 0 0 1 2 4a2 2 0 0 1 2-2h3a2 2 0 0 1 2 2v3a2 2 0 0 1-.8 1.6l-.468.351a1 1 0 0 0-.292 1.233 14 14 0 0 0 6.392 6.384"/></svg>
<div style="position:absolute;left:250.7px;top:1633.0px;width:857.0px;height:200.0px;background:#f3f3f5;border:2px solid #e4e5e9;border-radius:20px;box-sizing:border-box;"></div>
<div class="t" style="left:272.9px;top:1660.2px;font-size:20.8px;line-height:20.8px;font-weight:400;color:#6e7078;letter-spacing:0.29px;">Total Calls</div>
<div style="position:absolute;left:1141.6px;top:1633.0px;width:857.0px;height:200.0px;background:#f3f3f5;border:2px solid #e4e5e9;border-radius:20px;box-sizing:border-box;"></div>
<div class="t" style="left:1163.8px;top:1660.2px;font-size:20.8px;line-height:20.8px;font-weight:400;color:#6e7078;letter-spacing:0.29px;">Active Agents</div>
<div style="position:absolute;left:2032.0px;top:1633.0px;width:857.0px;height:200.0px;background:#f3f3f5;border:2px solid #e4e5e9;border-radius:20px;box-sizing:border-box;"></div>
<div class="t" style="left:2054.2px;top:1660.2px;font-size:20.8px;line-height:20.8px;font-weight:400;color:#6e7078;letter-spacing:0.29px;">Avg Score</div>
<script>(function(){var s=window.innerWidth/2973;if(s>0&&Math.abs(s-1)>0.01){document.documentElement.style.zoom=s;}})();</script>
</body></html>
